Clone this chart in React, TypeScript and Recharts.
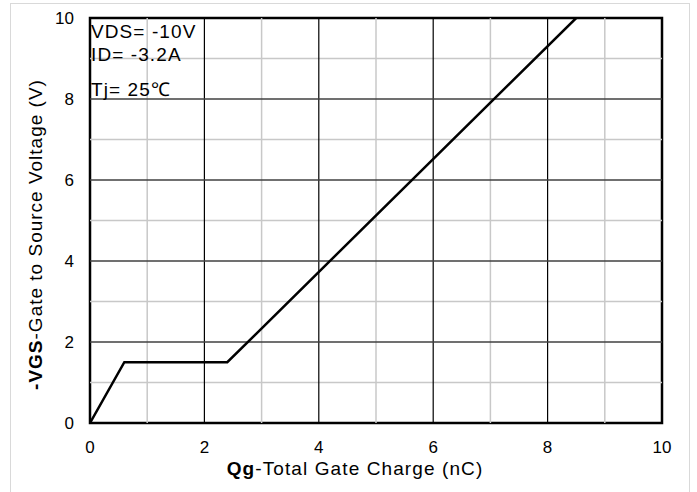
import React from 'react';
import { LineChart, Line, XAxis, YAxis, ReferenceLine, ReferenceArea, ReferenceDot } from 'recharts';

const qgValues = [0, 0.6, 2.4, 8.5];
const vgsValues = [0, 1.5, 1.5, 10];
const xTicks = [0, 2, 4, 6, 8, 10];
const yTicks = [0, 2, 4, 6, 8, 10];
const minorLines = [1, 3, 5, 7, 9];
const majorLines = [2, 4, 6, 8];
const notes = ['VDS= -10V', 'ID= -3.2A', 'Tj= 25℃'];

const data = qgValues.map((q, i) => ({ q, v: vgsValues[i] }));

const FONT = '"Liberation Sans", Arial, sans-serif';

const NoteLabel = (props: any) => {
  const vb = props.viewBox || {};
  const x = (vb.x ?? 0) + 1;
  const y = vb.y ?? 0;
  const offsets = [20, 43, 78];
  return (
    <g>
      {notes.map((t, i) => (
        <text
          key={i}
          x={x}
          y={y + offsets[i]}
          style={{ fontSize: '19px', fontFamily: FONT, letterSpacing: '1.1px' }}
          fill="#000"
        >
          {t}
        </text>
      ))}
    </g>
  );
};

const XTitle = (props: any) => {
  const vb = props.viewBox || {};
  const cx = vb.x + vb.width / 2 - 21;
  const y = vb.y + 52;
  return (
    <text
      x={cx}
      y={y}
      textAnchor="middle"
      style={{ fontSize: '19px', fontFamily: FONT, letterSpacing: '1.1px' }}
      fill="#000"
    >
      <tspan fontWeight="bold">Qg</tspan>
      <tspan>-Total Gate Charge (nC)</tspan>
    </text>
  );
};

const YTitle = (props: any) => {
  const vb = props.viewBox || {};
  const x = vb.x + 5;
  const cy = vb.y + vb.height / 2 + 14;
  return (
    <text
      x={x}
      y={cy}
      textAnchor="middle"
      style={{ fontSize: '19px', fontFamily: FONT, letterSpacing: '1px' }}
      fill="#000"
      transform={`rotate(-90 ${x} ${cy})`}
      dominantBaseline="central"
    >
      <tspan fontWeight="bold">-VGS</tspan>
      <tspan>-Gate to Source Voltage (V)</tspan>
    </text>
  );
};

const tickStyle = { fontSize: 17, fontFamily: FONT, fill: '#000' };

export default function App() {
  return (
    <div style={{ position: 'absolute', left: 0, top: 0, width: 697, height: 492, background: '#fff', overflow: 'hidden' }}>
      <div
        style={{
          position: 'absolute',
          left: 10,
          top: 3,
          width: 680,
          height: 520,
          border: '1px solid #d9d9d9',
          boxSizing: 'border-box',
        }}
      />
      <div style={{ position: 'absolute', left: 0, top: 0 }}>
        <LineChart width={697} height={492} data={data} margin={{ top: 18, right: 35, bottom: 29, left: 30 }}>
          <XAxis
            dataKey="q"
            type="number"
            domain={[0, 10]}
            ticks={xTicks}
            allowDataOverflow
            axisLine={false}
            tickLine={false}
            tickSize={6}
            tickMargin={12}
            height={40}
            fontSize={17}
            fontFamily={FONT}
            tick={tickStyle}
            label={<XTitle />}
          />
          <YAxis
            type="number"
            domain={[0, 10]}
            ticks={yTicks}
            allowDataOverflow
            axisLine={false}
            tickLine={false}
            tickSize={6}
            tickMargin={10}
            width={60}
            fontSize={17}
            fontFamily={FONT}
            tick={tickStyle}
            label={<YTitle />}
          />
          {minorLines.map((m) => (
            <ReferenceLine key={'vx' + m} x={m} stroke="#c8c8c8" strokeWidth={1.5} />
          ))}
          {minorLines.map((m) => (
            <ReferenceLine key={'hy' + m} y={m} stroke="#c8c8c8" strokeWidth={1.5} />
          ))}
          {majorLines.map((m) => (
            <ReferenceLine key={'VX' + m} x={m} stroke="#000" strokeWidth={1.2} />
          ))}
          {majorLines.map((m) => (
            <ReferenceLine key={'HY' + m} y={m} stroke="#404040" strokeWidth={1.5} />
          ))}
          <ReferenceDot x={0} y={10} r={0} fill="none" stroke="none" label={<NoteLabel />} />
          <Line
            dataKey="v"
            type="linear"
            stroke="#000"
            strokeWidth={2.5}
            dot={false}
            isAnimationActive={false}
          />
          <ReferenceArea x1={0} x2={10} y1={0} y2={10} fill="none" stroke="#000" strokeWidth={2.5} fillOpacity={0} ifOverflow="visible" />
        </LineChart>
      </div>
    </div>
  );
}
